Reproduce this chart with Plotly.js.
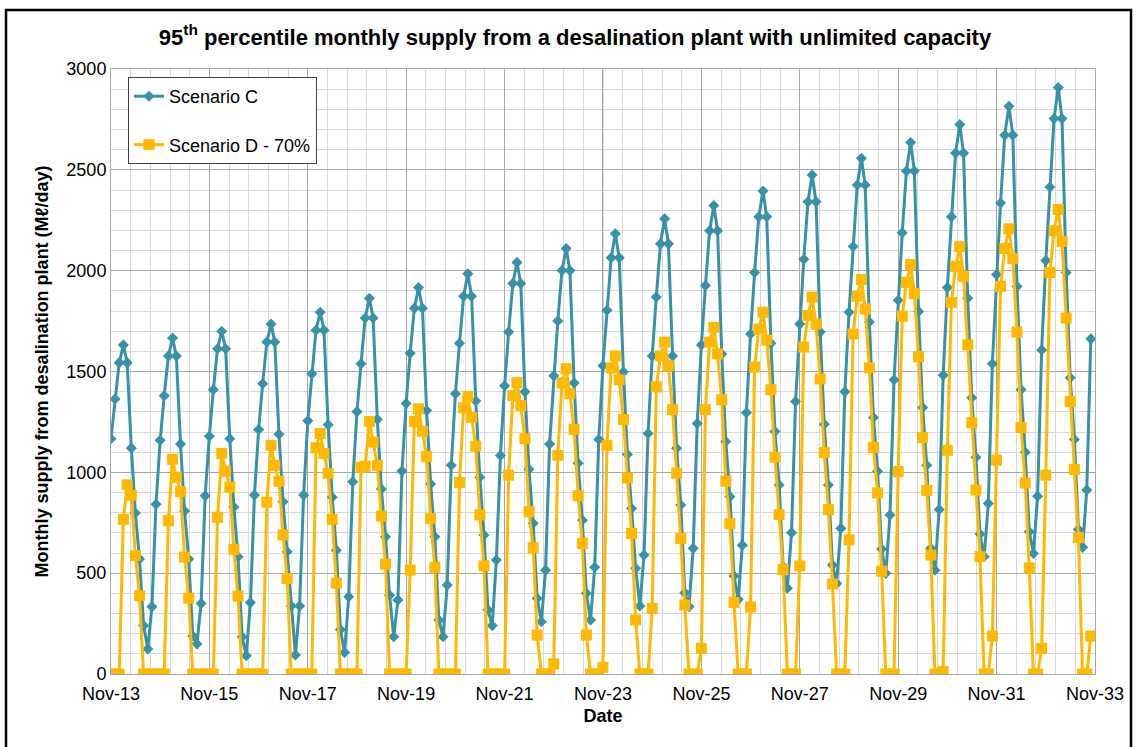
<!DOCTYPE html>
<html>
<head>
<meta charset="utf-8">
<script src="https://cdn.plot.ly/plotly-3.0.1.min.js"></script>
<style>
  html, body { margin: 0; padding: 0; background: #ffffff; }
  #chart { width: 1136px; height: 747px; }
</style>
</head>
<body>
<div id="chart"></div>
<script>
// Monthly series start in November 2013; each row below is one
// November-to-October year (Nov, Dec, Jan, Feb, Mar, Apr, May, Jun, Jul, Aug, Sep, Oct).
const startMonth = '2013-11';
const axisRange = ['2013-11-01', '2033-11-01'];
const seriesNames = ['Scenario C', 'Scenario D - 70%'];

// Scenario C, Mℓ/day
const scenarioC = [
  1167, 1364, 1544, 1632, 1544, 1120,  798,  570,  240,  124,  334,  842,
  1159, 1380, 1577, 1666, 1577, 1140,  808,  570,  188,  149,  350,  884,
  1179, 1410, 1613, 1700, 1613, 1167,  828,  581,  185,   91,  354,  887,
  1212, 1439, 1646, 1735, 1646, 1189,  854,  606,  337,   94,  337,  887,
  1256, 1489, 1705, 1794, 1705, 1236,  877,  614,  221,  107,  383,  953,
  1301, 1538, 1765, 1863, 1765, 1262,  917,  680,  391,  185,  367, 1006,
  1341, 1591, 1814, 1916, 1814, 1307,  942,  681,  268,  185,  441, 1035,
  1390, 1640, 1873, 1985, 1873, 1354,  976,  689,  317,  240,  565, 1084,
  1429, 1696, 1936, 2041, 1936, 1400, 1015,  747,  375,  259,  515, 1140,
  1479, 1751, 2001, 2110, 2001, 1443, 1045,  763,  400,  268,  529, 1163,
  1528, 1804, 2064, 2183, 2064, 1498, 1088,  821,  524,  337,  590, 1193,
  1577, 1869, 2133, 2257, 2133, 1577, 1120,  838,  403,  334,  623, 1242,
  1632, 1926, 2198, 2323, 2198, 1587, 1153,  879,  486,  370,  639, 1295,
  1686, 1991, 2267, 2395, 2267, 1640, 1203,  937,  532,  425,  700, 1351,
  1735, 2056, 2342, 2474, 2342, 1696, 1238,  937,  540,  449,  722, 1400,
  1794, 2120, 2425, 2557, 2425, 1745, 1272, 1005,  620,  499,  788, 1459,
  1853, 2188, 2494, 2636, 2494, 1798, 1321, 1035,  623,  515,  816, 1482,
  1916, 2267, 2583, 2725, 2583, 1863, 1370, 1075,  694,  582,  846, 1538,
  1981, 2336, 2672, 2815, 2672, 1922, 1410, 1100,  705,  598,  882, 1607,
  2050, 2415, 2754, 2908, 2754, 1991, 1469, 1163,  717,  628,  912, 1662
];

// Scenario D - 70%, Mℓ/day
const scenarioD = [
     0,    0,    0,  767,  938,  887,  587,  388,    0,    0,    0,    0,
     0,    0,  760, 1065,  976,  905,  580,  376,    0,    0,    0,    0,
     0,    0,  777, 1094, 1005,  927,  618,  386,    0,    0,    0,    0,
     0,    0,  852, 1134, 1035,  956,  690,  473,    0,    0,    0,    0,
     0,    0, 1122, 1193, 1094,  995,  767,  450,    0,    0,    0,    0,
     0, 1025, 1030, 1252, 1150, 1035,  783,  545,    0,    0,    0,    0,
     0,  515, 1252, 1315, 1203, 1078,  771,  529,    0,    0,    0,    0,
     0,  950, 1321, 1376, 1272, 1130,  789,  536,    0,    0,    0,    0,
     0,  986, 1380, 1445, 1331, 1167,  805,  626,  193,    0,    0,    0,
    50, 1084, 1443, 1514, 1390, 1213,  884,  647,  193,    0,    0,    0,
    33, 1134, 1518, 1577, 1459, 1262,  972,  697,  268,    0,    0,    0,
   325, 1424, 1577, 1646, 1528, 1311,  996,  672,  342,    0,    0,    0,
   127, 1311, 1646, 1719, 1587, 1360,  956,  745,  355,    0,    0,    0,
   332, 1522, 1711, 1794, 1656, 1410, 1075,  790,  518,    0,    0,    0,
   536, 1621, 1778, 1869, 1735, 1463, 1098,  816,  446,    0,    0,    0,
   665, 1686, 1873, 1956, 1810, 1518, 1124,  898,  510,    0,    0,    0,
  1004, 1774, 1942, 2031, 1887, 1573, 1173,  910,  590,    0,    0,   12,
  1109, 1843, 2021, 2119, 1972, 1632, 1246,  912,  582,    0,    0,  188,
  1060, 1922, 2110, 2208, 2060, 1696, 1222,  947,  526,    0,    0,  127,
   986, 1991, 2198, 2303, 2145, 1765, 1351, 1015,  676,    0,    0,  188
];

// First-of-month dates for n consecutive months from a 'YYYY-MM' start
function monthDates(start, n) {
  const [y0, m0] = start.split('-').map(Number);
  const out = [];
  for (let i = 0; i < n; i++) {
    const t = (m0 - 1) + i;
    const y = y0 + Math.floor(t / 12);
    const m = (t % 12) + 1;
    out.push(y + '-' + String(m).padStart(2, '0') + '-01');
  }
  return out;
}

const dates = monthDates(startMonth, scenarioC.length);

const teal = '#3791A7';
const gold = '#FFB900';

const traces = [
  {
    type: 'scatter', mode: 'lines+markers',
    name: seriesNames[0], legendgroup: 'c',
    x: dates, y: scenarioC,
    line: { color: teal, width: 3 },
    marker: { symbol: 'diamond', size: 8.5, color: teal }
  },
  {
    type: 'scatter', mode: 'lines+markers',
    name: seriesNames[1], legendgroup: 'd',
    x: dates, y: scenarioD,
    line: { color: gold, width: 3 },
    marker: { symbol: 'square', size: 11, color: gold }
  }
];

// plot area in pixels: left 111, right 1095, top 69, bottom 674
const L = 111, R = 1095, T = 69, B = 674;
const px2x = p => (p - L) / (R - L);
const px2y = p => (B - p) / (B - T);

const layout = {
  width: 1136, height: 747,
  margin: { l: L, r: 1136 - R, t: T, b: 747 - B },
  paper_bgcolor: '#ffffff', plot_bgcolor: '#ffffff',
  font: { family: 'Liberation Sans, Arial, sans-serif', size: 18, color: '#000000' },
  showlegend: true,
  title: {
    text: '<b>95<sup>th</sup> percentile monthly supply from a desalination plant with unlimited capacity</b>',
    font: { size: 22, color: '#000000' },
    xref: 'container', yref: 'container',
    x: 575 / 1136, y: 1 - 37 / 747,
    xanchor: 'center', yanchor: 'middle'
  },
  xaxis: {
    type: 'date',
    range: axisRange,
    tick0: '2013-11-01', dtick: 'M24',
    tickformat: '%b-%y',
    tickfont: { size: 18 },
    ticks: '',
    ticklabelstandoff: 3,
    showgrid: true, gridcolor: '#A6A6A6', gridwidth: 1,
    minor: { tick0: '2013-11-01', dtick: 146.1 * 86400000, showgrid: true, gridcolor: '#D9D9D9', gridwidth: 1, ticks: '' },
    showline: true, mirror: true, linecolor: '#A6A6A6', linewidth: 1,
    zeroline: false,
    title: { text: '<b>Date</b>', font: { size: 18 }, standoff: 6 }
  },
  yaxis: {
    range: [0, 3000],
    tick0: 0, dtick: 500,
    tickfont: { size: 18 },
    ticks: '',
    showgrid: true, gridcolor: '#A6A6A6', gridwidth: 1,
    minor: { dtick: 100, showgrid: true, gridcolor: '#D9D9D9', gridwidth: 1, ticks: '' },
    showline: true, mirror: true, linecolor: '#A6A6A6', linewidth: 1,
    zeroline: false,
    title: { text: '<b>Monthly supply from desalination plant (Mℓ/day)</b>', font: { size: 18 }, standoff: 13 }
  },
  legend: {
    x: px2x(128), y: px2y(77),
    xanchor: 'left', yanchor: 'top',
    bgcolor: '#ffffff', bordercolor: '#404040', borderwidth: 1,
    font: { size: 18 },
    traceorder: 'grouped', tracegroupgap: 22
  },
  shapes: [
    {
      type: 'rect', xref: 'paper', yref: 'paper', layer: 'above',
      x0: px2x(6), x1: px2x(1131), y0: px2y(770), y1: px2y(10),
      line: { color: '#000000', width: 2.5 }, fillcolor: 'rgba(0,0,0,0)'
    }
  ]
};

Plotly.newPlot('chart', traces, layout, { displayModeBar: false, staticPlot: true });
</script>
</body>
</html>
